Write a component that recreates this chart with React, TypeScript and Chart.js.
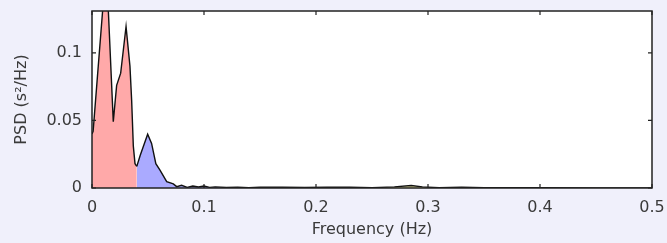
import React, { useEffect, useRef } from "react";
import { Chart, registerables } from "chart.js";

Chart.register(...registerables);

const vlfFreq = [0.0, 0.001, 0.0127, 0.0146, 0.019, 0.022, 0.0256, 0.0304, 0.0339, 0.0354, 0.0369, 0.0384, 0.04];
const vlfPsd = [0.04, 0.042, 0.165, 0.131, 0.049, 0.076, 0.085, 0.1195, 0.09, 0.065, 0.031, 0.018, 0.016];

const lfFreq = [0.04, 0.043, 0.0497, 0.0532, 0.057, 0.0607, 0.0667, 0.0726, 0.0756, 0.08, 0.085, 0.09, 0.095, 0.1, 0.105, 0.11, 0.12, 0.13, 0.14, 0.15];
const lfPsd = [0.016, 0.024, 0.0398, 0.033, 0.018, 0.0133, 0.0047, 0.003, 0.001, 0.002, 0.0005, 0.0015, 0.0008, 0.0015, 0.0005, 0.0008, 0.0004, 0.0006, 0.0003, 0.0005];

const hfFreq = [0.15, 0.17, 0.19, 0.21, 0.23, 0.25, 0.27, 0.285, 0.295, 0.31, 0.33, 0.35, 0.38, 0.4];
const hfPsd = [0.0005, 0.0006, 0.0004, 0.0006, 0.0005, 0.0003, 0.0008, 0.0018, 0.0008, 0.0003, 0.0006, 0.0002, 0.0002, 0.0002];

const tailFreq = [0.4, 0.45, 0.5];
const tailPsd = [0.0002, 0.0001, 0.0001];

const xTicks = [0, 0.1, 0.2, 0.3, 0.4, 0.5];
const xTickLabels = ["0", "0.1", "0.2", "0.3", "0.4", "0.5"];
const yTicks = [0, 0.05, 0.1];
const yTickLabels = ["0", "0.05", "0.1"];

const xTitle = "Frequency (Hz)";
const yTitle = "PSD (s\u00B2/Hz)";

const toPts = (xs: number[], ys: number[]) => xs.map((x, i) => ({ x, y: ys[i] }));

const framePlugin = {
  id: "frame",
  beforeDraw(chart: any) {
    const { ctx, chartArea } = chart;
    ctx.save();
    ctx.fillStyle = "#ffffff";
    ctx.fillRect(chartArea.left, chartArea.top, chartArea.right - chartArea.left, chartArea.bottom - chartArea.top);
    ctx.restore();
  },
  afterDraw(chart: any) {
    const { ctx, chartArea, scales } = chart;
    const { left, right, top, bottom } = chartArea;
    ctx.save();
    ctx.strokeStyle = "#222222";
    ctx.lineWidth = 1.5;
    ctx.strokeRect(left, top, right - left, bottom - top);
    ctx.lineWidth = 1.2;
    const len = 4;
    ctx.beginPath();
    xTicks.forEach((v) => {
      const px = scales.x.getPixelForValue(v);
      ctx.moveTo(px, bottom);
      ctx.lineTo(px, bottom - len);
      ctx.moveTo(px, top);
      ctx.lineTo(px, top + len);
    });
    yTicks.forEach((v) => {
      const py = scales.y.getPixelForValue(v);
      ctx.moveTo(left, py);
      ctx.lineTo(left + len, py);
      ctx.moveTo(right, py);
      ctx.lineTo(right - len, py);
    });
    ctx.stroke();
    ctx.restore();
  },
};

export default function App() {
  const ref = useRef<HTMLCanvasElement | null>(null);

  useEffect(() => {
    if (!ref.current) return;
    const font = { family: "'DejaVu Sans', sans-serif", size: 16 };
    const lineStyle = { borderColor: "#111111", borderWidth: 1.4, pointRadius: 0, tension: 0, fill: "origin" as const };
    const chart = new Chart(ref.current, {
      type: "line",
      data: {
        datasets: [
          { ...lineStyle, data: toPts(vlfFreq, vlfPsd), backgroundColor: "#ffa9a9" },
          { ...lineStyle, data: toPts(lfFreq, lfPsd), backgroundColor: "#aaaaff" },
          { ...lineStyle, data: toPts(hfFreq, hfPsd), backgroundColor: "#e6e2a0" },
          { ...lineStyle, data: toPts(tailFreq, tailPsd), backgroundColor: "rgba(0,0,0,0)" },
        ],
      },
      options: {
        responsive: false,
        animation: false,
        layout: { padding: { left: 0, right: 15, top: 11, bottom: 0 } },
        plugins: { legend: { display: false }, tooltip: { enabled: false } },
        scales: {
          x: {
            type: "linear",
            min: 0,
            max: 0.5,
            grid: { display: false, drawTicks: false },
            border: { display: false },
            afterBuildTicks: (s: any) => {
              s.ticks = xTicks.map((v) => ({ value: v }));
            },
            afterFit: (s: any) => {
              s.height = 55;
              s.paddingLeft = 0;
              s.paddingRight = 0;
            },
            ticks: {
              color: "#3a3a3a",
              font,
              padding: 10,
              maxRotation: 0,
              autoSkip: false,
              callback: (v: any) => {
                const i = xTicks.findIndex((t) => Math.abs(t - v) < 1e-9);
                return i >= 0 ? xTickLabels[i] : "";
              },
            },
            title: { display: true, text: xTitle, color: "#3a3a3a", font, padding: { top: 0, bottom: 4 } },
          },
          y: {
            type: "linear",
            min: 0,
            max: 0.131,
            grid: { display: false, drawTicks: false },
            border: { display: false },
            afterBuildTicks: (s: any) => {
              s.ticks = yTicks.map((v) => ({ value: v }));
            },
            afterFit: (s: any) => {
              s.width = 92;
              s.paddingTop = 0;
              s.paddingBottom = 0;
            },
            ticks: {
              color: "#3a3a3a",
              font,
              padding: 10,
              autoSkip: false,
              callback: (v: any) => {
                const i = yTicks.findIndex((t) => Math.abs(t - v) < 1e-9);
                return i >= 0 ? yTickLabels[i] : "";
              },
            },
            title: { display: true, text: yTitle, color: "#3a3a3a", font, padding: { top: 12, bottom: 0 } },
          },
        },
      },
      plugins: [framePlugin],
    });
    return () => chart.destroy();
  }, []);

  return (
    <div style={{ position: "fixed", left: 0, top: 0, width: 667, height: 243, background: "#f0f0fb" }}>
      <canvas ref={ref} width={667} height={243} style={{ display: "block" }} />
    </div>
  );
}
